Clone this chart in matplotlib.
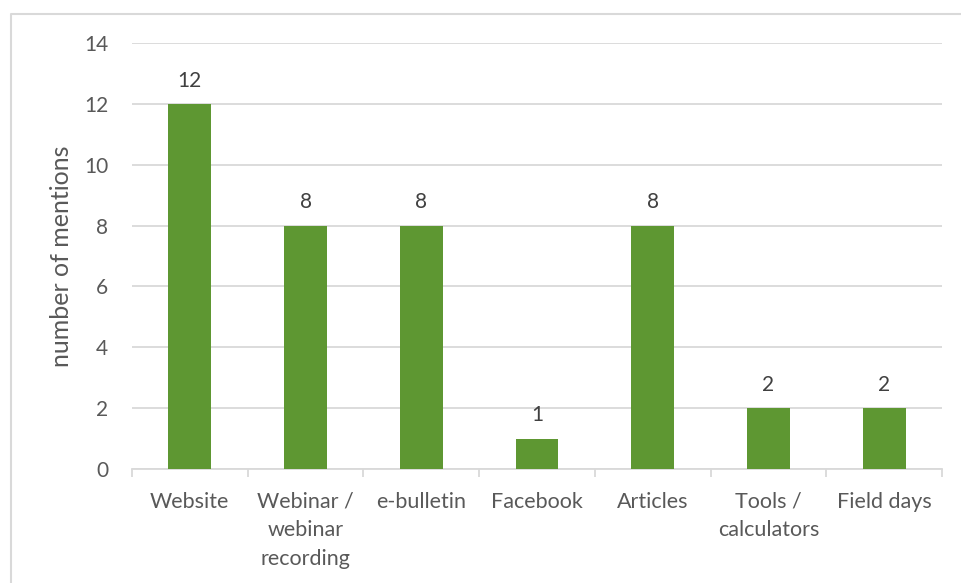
import matplotlib
matplotlib.use("Agg")
import matplotlib.pyplot as plt
from matplotlib.lines import Line2D

categories = ["Website", "Webinar /\nwebinar\nrecording", "e-bulletin", "Facebook",
              "Articles", "Tools /\ncalculators", "Field days"]
mentions = [12, 8, 8, 1, 8, 2, 2]
yticks = [0, 2, 4, 6, 8, 10, 12, 14]

plt.rcParams['font.family'] = ['Lato', 'DejaVu Sans']

W, H = 961, 583
fig = plt.figure(figsize=(W / 100, H / 100), dpi=100)
ax = fig.add_axes([132 / W, 1 - 469 / H, (942 - 132) / W, (469 - 43) / H])

x = list(range(len(categories)))
bars = ax.bar(x, mentions, width=0.37, color="#5E9732", zorder=3)

for xi, v in zip(x, mentions):
    ax.annotate(str(v), (xi, v), xytext=(0, 9.5), textcoords="offset points",
                ha="center", va="bottom", fontsize=15, color="#404040")

ax.set_xlim(-0.5, len(categories) - 0.5)
ax.set_ylim(0, 14)
ax.set_yticks(yticks)
ax.tick_params(axis="y", length=0, pad=17, labelsize=15, labelcolor="#595959")

# category ticks sit on the boundaries between bars
ax.set_xticks([i - 0.5 for i in range(len(categories) + 1)], minor=False)
ax.set_xticklabels([])
ax.set_xticks(x, minor=True)
ax.set_xticklabels(categories, minor=True, fontsize=15.5, color="#595959", linespacing=1.52)
ax.tick_params(axis="x", which="major", length=6, width=1.3, color="#D9D9D9", direction="out")
ax.tick_params(axis="x", which="minor", length=0, pad=16.5)

ax.grid(axis="y", color="#D9D9D9", linewidth=1.3, zorder=0)
for side in ["top", "right", "left"]:
    ax.spines[side].set_visible(False)
ax.spines["bottom"].set_color("#D9D9D9")
ax.spines["bottom"].set_linewidth(1.3)

ax.set_ylabel("number of mentions", fontsize=18, color="#595959", labelpad=8)

# chart area frame
fig.add_artist(Line2D([11 / W, 11 / W, 1], [0, 1 - 14 / H, 1 - 14 / H],
                      transform=fig.transFigure, color="#D9D9D9", linewidth=1.5))

fig.savefig("out.png", dpi=100)
